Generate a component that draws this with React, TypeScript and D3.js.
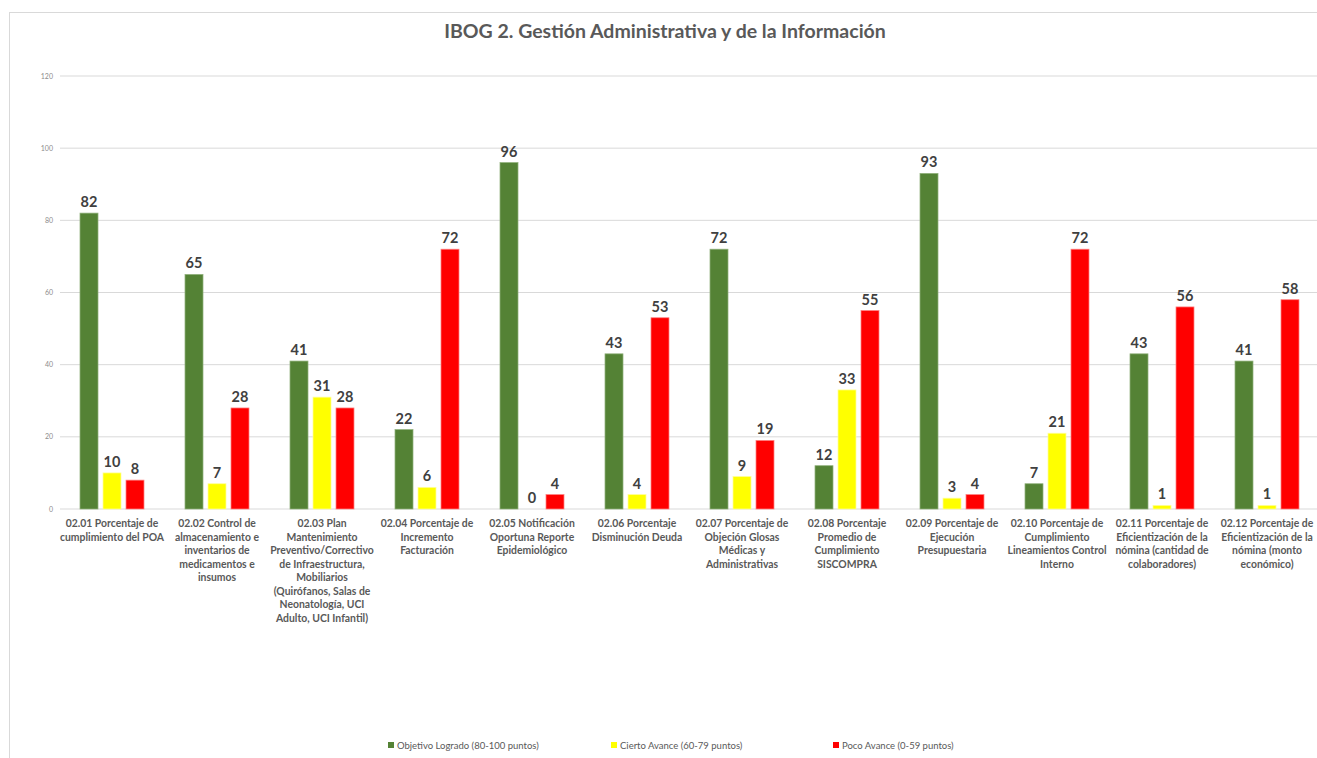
import React from "react";
import * as d3 from "d3";

const categories: string[][] = [
  ["02.01 Porcentaje de", "cumplimiento del POA"],
  ["02.02 Control de", "almacenamiento e", "inventarios de", "medicamentos e", "insumos"],
  ["02.03 Plan", "Mantenimiento", "Preventivo/Correctivo", "de Infraestructura,", "Mobiliarios", "(Quirófanos, Salas de", "Neonatología, UCI", "Adulto, UCI Infantil)"],
  ["02.04 Porcentaje de", "Incremento", "Facturación"],
  ["02.05 Notificación", "Oportuna Reporte", "Epidemiológico"],
  ["02.06 Porcentaje", "Disminución Deuda"],
  ["02.07 Porcentaje de", "Objeción Glosas", "Médicas y", "Administrativas"],
  ["02.08 Porcentaje", "Promedio de", "Cumplimiento", "SISCOMPRA"],
  ["02.09 Porcentaje de", "Ejecución", "Presupuestaria"],
  ["02.10 Porcentaje de", "Cumplimiento", "Lineamientos Control", "Interno"],
  ["02.11 Porcentaje de", "Eficientización de la", "nómina (cantidad de", "colaboradores)"],
  ["02.12 Porcentaje de", "Eficientización de la", "nómina (monto", "económico)"],
];

const objetivoLogrado = [82, 65, 41, 22, 96, 43, 72, 12, 93, 7, 43, 41];
const ciertoAvance = [10, 7, 31, 6, 0, 4, 9, 33, 3, 21, 1, 1];
const pocoAvance = [8, 28, 28, 72, 4, 53, 19, 55, 4, 72, 56, 58];

const seriesNames = ["Objetivo Logrado (80-100 puntos)", "Cierto Avance (60-79 puntos)", "Poco Avance (0-59 puntos)"];
const seriesColors = ["#548235", "#FFFF00", "#FF0000"];
const seriesStroke = ["#8fb07a", "#ffff99", "#ff8080"];
const yTicks = [0, 20, 40, 60, 80, 100, 120];

const W = 1317;
const H = 758;
const font = "Lato, 'Open Sans', sans-serif";

export default function App() {
  const series = [objetivoLogrado, ciertoAvance, pocoAvance];
  const keys = categories.map((_, i) => String(i));

  const x = d3.scaleBand().domain(keys).range([59.5, 1319.5]);
  // bars 18px wide with 5px gaps
  const inner = d3.scaleBand().domain(["0", "1", "2"]).range([-32, 32]).paddingInner(5 / 23).paddingOuter(0);
  const y = d3.scaleLinear().domain([0, 120]).range([509, 76]);

  const legendX = [388, 611, 833];

  return (
    <svg width={W} height={H} style={{ position: "fixed", left: 0, top: 0, background: "#fff" }} fontFamily={font}>
      <rect x={9.5} y={12.5} width={W + 10} height={H + 10} fill="#fff" stroke="#d9d9d9" />
      <text x={665} y={38} textAnchor="middle" fontSize={19.5} fontWeight="bold" fill="#595959">
        IBOG 2. Gestión Administrativa y de la Información
      </text>

      {yTicks.map((t) => (
        <g key={t}>
          <line x1={60} x2={W} y1={y(t)} y2={y(t)} stroke="#d9d9d9" strokeWidth={1} />
          <text x={53} y={y(t) + 2.5} textAnchor="end" fontSize={7} fill="#8c8c8c">{t}</text>
        </g>
      ))}

      {keys.map((k, i) => {
        const cx = x(k)! + x.bandwidth() / 2;
        return (
          <g key={k}>
            {series.map((s, j) => {
              const bx = cx + inner(String(j))!;
              const v = s[i];
              return (
                <g key={j}>
                  {v > 0 && (
                    <rect x={bx} y={y(v)} width={inner.bandwidth()} height={y(0) - y(v)} fill={seriesColors[j]} stroke={seriesStroke[j]} strokeWidth={0.75} />
                  )}
                  <text x={bx + inner.bandwidth() / 2} y={y(v) - 6} textAnchor="middle" fontSize={14.5} fontWeight="bold" fill="#404040">{v}</text>
                </g>
              );
            })}
            {categories[i].map((line, li) => (
              <text key={li} x={cx} y={527 + li * 13.5} textAnchor="middle" fontSize={10.4} fontWeight="bold" fill="#595959">{line}</text>
            ))}
          </g>
        );
      })}

      {seriesNames.map((n, j) => (
        <g key={n}>
          <rect x={legendX[j]} y={742} width={6} height={6} fill={seriesColors[j]} />
          <text x={legendX[j] + 9} y={748.5} fontSize={9.5} fill="#595959">{n}</text>
        </g>
      ))}
    </svg>
  );
}
